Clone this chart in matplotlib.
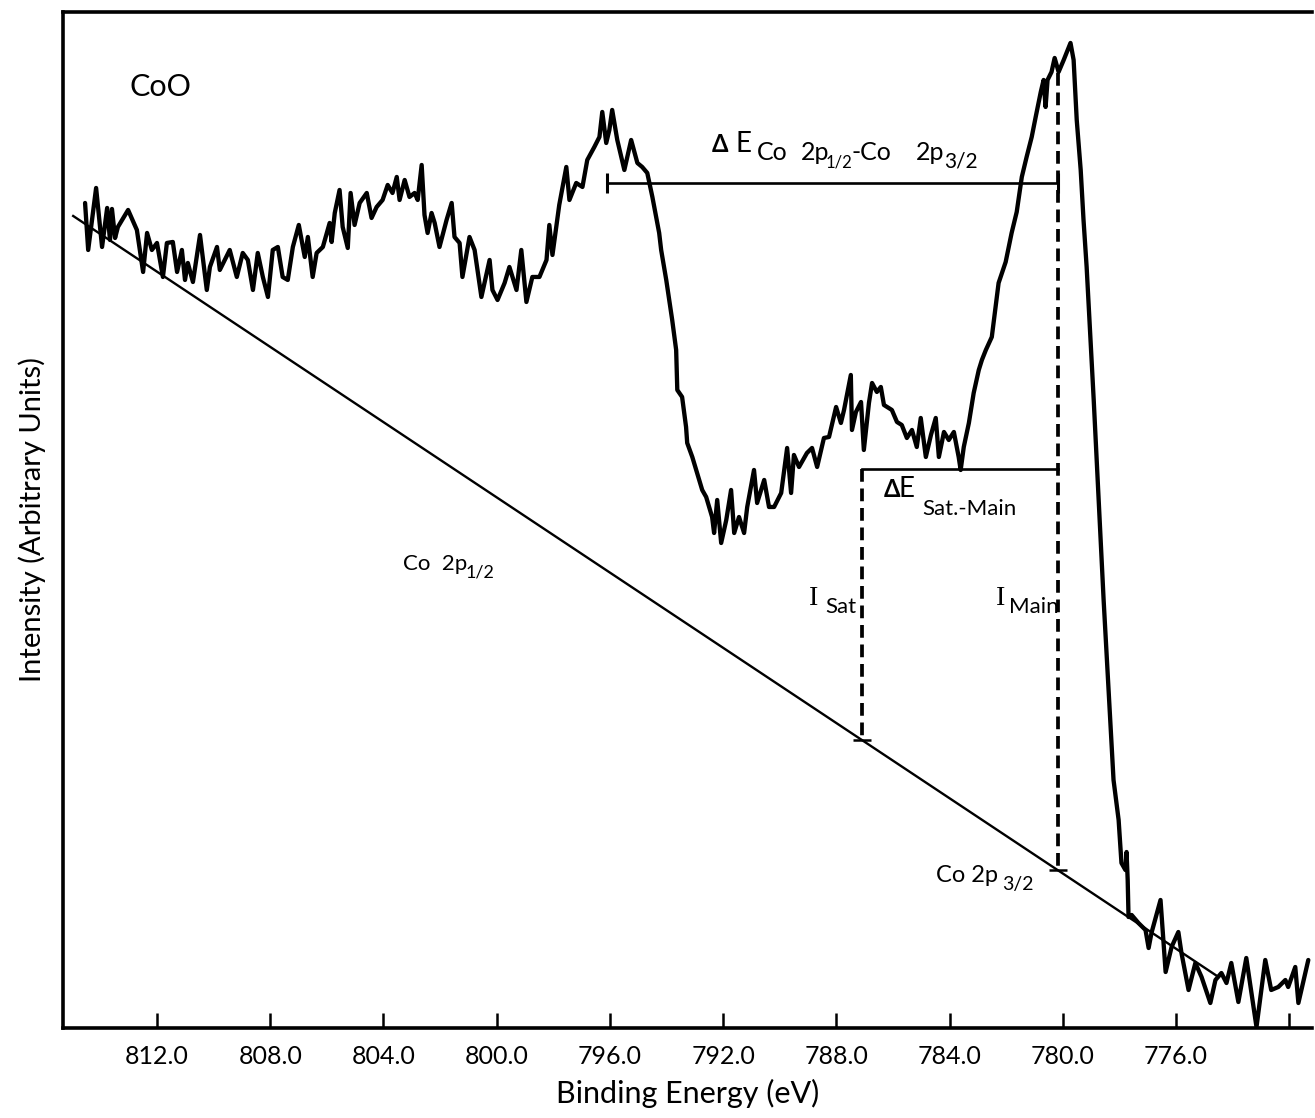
import matplotlib
matplotlib.use("Agg")
import matplotlib.pyplot as plt
import numpy as np

# ---- Co 2p XPS spectrum of CoO (binding energy in eV, intensity in arbitrary units) ----
energy = [
    814.54, 814.43, 814.15, 813.94, 813.76, 813.66, 813.59, 813.48, 813.38, 813.02,
    812.71, 812.49, 812.35, 812.18, 812.00, 811.79, 811.65, 811.44, 811.29, 811.12,
    811.01, 810.91, 810.73, 810.48, 810.24, 810.13, 809.88, 809.78, 809.43, 809.18,
    808.97, 808.79, 808.61, 808.44, 808.26, 808.08, 807.91, 807.73, 807.56, 807.38,
    807.20, 806.99, 806.78, 806.67, 806.50, 806.36, 806.14, 805.90, 805.83, 805.72,
    805.55, 805.44, 805.26, 805.16, 805.02, 804.84, 804.59, 804.42, 804.24, 804.03,
    803.85, 803.68, 803.53, 803.43, 803.25, 803.08, 802.90, 802.79, 802.65, 802.55,
    802.44, 802.30, 802.19, 802.02, 801.77, 801.59, 801.49, 801.31, 801.21, 800.96,
    800.78, 800.54, 800.25, 800.15, 799.97, 799.72, 799.55, 799.30, 799.13, 798.95,
    798.74, 798.49, 798.24, 798.14, 798.03, 797.79, 797.54, 797.43, 797.19, 796.97,
    796.80, 796.55, 796.37, 796.27, 796.13, 796.02, 795.92, 795.74, 795.49, 795.25,
    795.03, 794.86, 794.68, 794.50, 794.26, 794.19, 794.01, 793.80, 793.66, 793.62,
    793.45, 793.31, 793.27, 793.09, 792.92, 792.74, 792.60, 792.39, 792.32, 792.21,
    792.07, 791.89, 791.72, 791.61, 791.44, 791.26, 791.15, 790.91, 790.80, 790.55,
    790.38, 790.20, 789.95, 789.74, 789.60, 789.50, 789.32, 789.04, 788.86, 788.68,
    788.44, 788.26, 788.01, 787.84, 787.73, 787.49, 787.45, 787.31, 787.13, 787.03,
    786.85, 786.74, 786.57, 786.43, 786.32, 786.04, 785.86, 785.69, 785.51, 785.33,
    785.16, 785.02, 784.84, 784.66, 784.49, 784.38, 784.20, 784.03, 783.85, 783.68,
    783.61, 783.50, 783.32, 783.15, 782.97, 782.86, 782.72, 782.51, 782.27, 782.02,
    781.81, 781.63, 781.45, 781.28, 781.10, 780.96, 780.78, 780.68, 780.61, 780.54,
    780.40, 780.29, 780.15, 779.97, 779.73, 779.62, 779.51, 779.37, 779.27, 779.16,
    778.91, 778.56, 778.21, 778.03, 777.93, 777.79, 777.75, 777.71, 777.68, 777.57,
    777.33, 777.08, 776.97, 776.87, 776.55, 776.37, 776.16, 775.92, 775.81, 775.56,
    775.32, 775.10, 774.79, 774.61, 774.40, 774.22, 774.05, 773.80, 773.52, 773.16,
    772.85, 772.64, 772.39, 772.14, 772.04, 771.79, 771.68, 771.33,
]
intensity = [
    82.5, 77.8, 84.0, 78.1, 82.0, 78.8, 81.9, 79.0, 80.1, 81.8,
    79.8, 75.6, 79.5, 77.8, 78.5, 75.1, 78.5, 78.6, 75.6, 77.8,
    74.8, 76.5, 74.6, 79.3, 73.8, 76.1, 78.1, 75.8, 77.8, 75.1,
    77.5, 76.8, 73.8, 77.5, 75.1, 73.1, 77.8, 78.1, 75.1, 74.8,
    78.1, 80.3, 77.1, 79.1, 75.1, 77.5, 78.1, 80.5, 78.6, 81.5,
    83.8, 80.1, 78.0, 83.5, 80.3, 82.5, 83.5, 81.0, 82.1, 82.8,
    84.3, 83.5, 85.1, 82.8, 84.8, 83.1, 83.5, 82.8, 86.3, 81.3,
    79.5, 81.5, 80.5, 78.1, 80.8, 82.5, 79.1, 78.5, 75.1, 79.1,
    77.8, 73.1, 76.8, 73.8, 72.8, 74.5, 76.1, 73.8, 77.8, 72.6,
    75.1, 75.1, 76.8, 80.3, 77.3, 82.3, 86.1, 82.8, 84.5, 84.1,
    86.8, 88.1, 89.1, 91.6, 88.5, 89.8, 91.8, 88.8, 85.8, 88.8,
    86.5, 86.1, 85.5, 83.1, 79.5, 77.8, 74.8, 70.8, 67.8, 63.8,
    63.1, 60.1, 58.5, 57.1, 55.5, 53.8, 53.1, 51.1, 49.5, 52.8,
    48.5, 50.8, 53.8, 49.5, 51.1, 49.5, 52.1, 55.8, 52.5, 54.8,
    52.1, 52.1, 53.5, 58.0, 53.5, 57.3, 56.1, 57.5, 58.0, 56.1,
    59.0, 59.1, 62.1, 60.5, 61.8, 65.3, 59.8, 61.6, 62.6, 57.8,
    62.5, 64.5, 63.6, 64.1, 62.3, 61.8, 60.6, 60.3, 59.0, 59.8,
    58.1, 61.0, 57.1, 59.3, 61.0, 57.1, 59.6, 58.8, 59.6, 57.1,
    55.8, 58.1, 60.5, 63.5, 65.8, 66.8, 67.8, 69.1, 74.5, 76.6,
    79.5, 81.6, 85.1, 87.1, 89.1, 91.1, 93.6, 94.8, 92.1, 94.8,
    95.6, 97.0, 95.6, 96.8, 98.5, 96.8, 90.8, 85.8, 80.8, 76.1,
    62.8, 42.8, 24.8, 20.8, 16.5, 15.8, 17.6, 14.8, 11.1, 11.3,
    10.5, 9.8, 8.0, 9.5, 12.8, 5.6, 8.1, 9.6, 7.5, 3.8,
    6.5, 5.1, 2.5, 4.8, 5.5, 4.5, 6.5, 2.6, 7.0, 0.1,
    6.8, 3.8, 4.1, 4.8, 4.1, 6.1, 2.5, 6.8,
]

# linear background drawn under the spectrum
bg_energy = [814.96, 774.50]
bg_intensity = [81.2, 5.1]

# peak / satellite positions used for the construction lines
e_p12 = 796.09      # Co 2p1/2 main line
e_sat = 787.10      # shake-up satellite
e_main = 780.18     # Co 2p3/2 main line
i_main_top = 95.5
level_split = 84.5  # height of the spin-orbit splitting bar
level_sat = 55.9    # height of the satellite-main bar

xtick_values = [812.0, 808.0, 804.0, 800.0, 796.0, 792.0, 788.0, 784.0, 780.0, 776.0, 772.0]
xtick_labels = ["812.0", "808.0", "804.0", "800.0", "796.0", "792.0",
                "788.0", "784.0", "780.0", "776.0", ""]

plt.rcParams["font.family"] = ["Lato", "DejaVu Sans"]

fig = plt.figure(figsize=(13.15, 11.18), dpi=100)
ax = fig.add_axes([0.0479, 0.0805, 0.9498, 0.9088])

ax.set_xlim(815.32, 771.2)
ax.set_ylim(0, 101.6)

# spectrum
ax.plot(energy, intensity, color="black", lw=3.1,
        solid_joinstyle="round", solid_capstyle="round", zorder=3)

# background line
ax.plot(bg_energy, bg_intensity, color="black", lw=1.7, zorder=2)

bg_e_inc = bg_energy[::-1]
bg_i_inc = bg_intensity[::-1]
bg_at_sat = float(np.interp(e_sat, bg_e_inc, bg_i_inc))
bg_at_main = float(np.interp(e_main, bg_e_inc, bg_i_inc))

dash = (0, (3.4, 1.8))
ax.plot([e_sat, e_sat], [level_sat, bg_at_sat], color="black", lw=2.7,
        linestyle=dash, zorder=2)
ax.plot([e_main, e_main], [i_main_top, bg_at_main], color="black", lw=2.7,
        linestyle=dash, zorder=2)
# small marks where the intensity lines meet the background
ax.plot([e_sat, e_main], [bg_at_sat, bg_at_main], linestyle="none", marker="_",
        markersize=13, mew=1.8, color="black", zorder=2)

# energy-separation bars
ax.plot([e_p12, e_main], [level_split, level_split], color="black", lw=1.9, zorder=2)
ax.plot([e_p12, e_main], [level_split, level_split], linestyle="none", marker="|",
        markersize=14, mew=2.2, color="black", zorder=2)
ax.plot([e_sat, e_main], [level_sat, level_sat], color="black", lw=1.9, zorder=2)

# annotations
ax.text(811.89, 94.1, "CoO", fontsize=22, ha="center", va="center")

# spin-orbit splitting label
ax.text(792.39, 87.6, "\u0394", fontsize=17, ha="left", va="baseline", fontweight="bold")
ax.text(791.55, 87.6, "E", fontsize=20, ha="left", va="baseline")
ax.text(790.80, 86.8, "Co", fontsize=18, ha="left", va="baseline")
ax.text(789.25, 86.8, "2p", fontsize=18, ha="left", va="baseline")
ax.text(788.37, 86.0, "1/2", fontsize=12, ha="left", va="baseline")
ax.text(787.45, 86.8, "-Co", fontsize=18, ha="left", va="baseline")
ax.text(785.19, 86.8, "2p", fontsize=18, ha="left", va="baseline")
ax.text(784.20, 86.0, "3/2", fontsize=15, ha="left", va="baseline")

# satellite-main separation label
ax.text(786.32, 53.1, "\u0394", fontsize=17, ha="left", va="baseline", fontweight="bold")
ax.text(785.82, 53.1, "E", fontsize=20, ha="left", va="baseline")
ax.text(784.98, 51.3, "Sat.-Main", fontsize=16, ha="left", va="baseline")

serif = ["Liberation Serif", "DejaVu Serif"]
ax.text(788.97, 42.3, "I", fontsize=20, ha="left", va="baseline", family=serif)
ax.text(788.40, 41.5, "Sat", fontsize=16, ha="left", va="baseline")
ax.text(782.37, 42.3, "I", fontsize=20, ha="left", va="baseline", family=serif)
ax.text(781.91, 41.5, "Main", fontsize=16, ha="left", va="baseline")

ax.text(803.32, 45.8, "Co  2p", fontsize=16, ha="left", va="baseline")
ax.text(801.10, 45.0, "1/2", fontsize=13, ha="left", va="baseline")
ax.text(784.49, 14.6, "Co 2p", fontsize=17, ha="left", va="baseline")
ax.text(782.16, 13.8, "3/2", fontsize=14, ha="left", va="baseline")

# axes styling
for side in ("left", "bottom", "top"):
    ax.spines[side].set_linewidth(2.6)
ax.spines["right"].set_visible(False)

ax.set_xticks(xtick_values)
ax.set_xticklabels(xtick_labels)
ax.tick_params(axis="x", direction="in", length=11, width=1.8, pad=12,
               labelsize=18, top=False)
ax.set_yticks([])

ax.set_xlabel("Binding Energy (eV)", fontsize=22, labelpad=8)
ax.set_ylabel("Intensity (Arbitrary Units)", fontsize=21, labelpad=12)

fig.savefig("out.png", dpi=100)
